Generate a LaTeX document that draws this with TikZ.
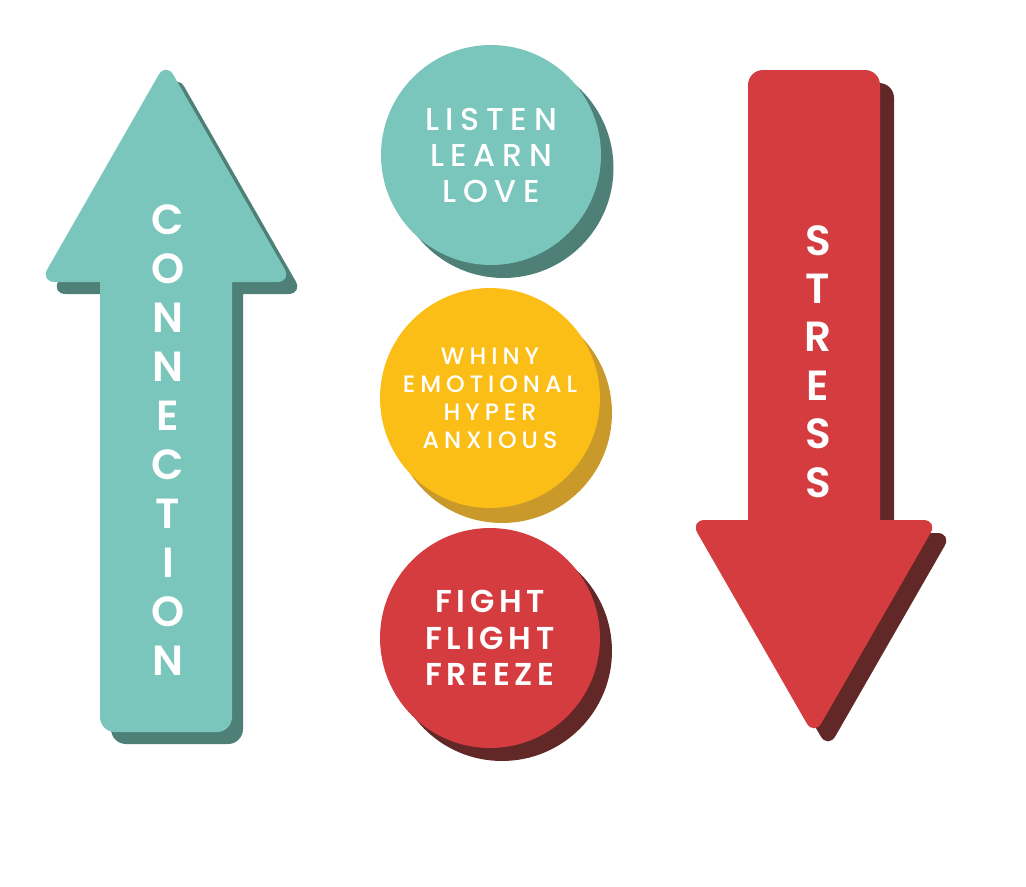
\documentclass[tikz,border=0pt]{standalone}
\usepackage{fontspec}
\setmainfont{Poppins}
\newfontfamily\spacedfont[LetterSpace=21]{Poppins Medium}
\newfontfamily\heavyfont[LetterSpace=15]{Poppins SemiBold}
\newfontfamily\stackfont{Poppins SemiBold}
\usetikzlibrary{shadows}
\definecolor{teal}{HTML}{7AC6BC}
\definecolor{tealdark}{HTML}{4F8077}
\definecolor{sun}{HTML}{FBBE16}
\definecolor{sundark}{HTML}{C99A2A}
\definecolor{alarm}{HTML}{D43C3F}
\definecolor{alarmdark}{HTML}{622828}
\tikzset{bubble/.style={circle, minimum size=4.4cm, inner sep=0pt, align=center, text=white}}
\tikzset{stack/.style={text=white, inner sep=0pt, font=\stackfont\fontsize{24}{28}\selectfont}}
\tikzset{arrowshape/.style={rounded corners=0.3cm}}

\begin{document}
\begin{tikzpicture}[x=0.02cm, y=-0.02cm]
\useasboundingbox (0,0) rectangle (1026,886);

% up arrow
\fill[tealdark, arrowshape, shift={(11,12)}] (166,62) -- (292,282) [sharp corners] -- (232,282) [rounded corners=0.3cm] -- (232,732) -- (100,732) [sharp corners] -- (100,282) [rounded corners=0.3cm] -- (40,282) -- cycle;
\fill[teal, arrowshape] (166,62) -- (292,282) [sharp corners] -- (232,282) [rounded corners=0.3cm] -- (232,732) -- (100,732) [sharp corners] -- (100,282) [rounded corners=0.3cm] -- (40,282) -- cycle;
\foreach \l [count=\i] in {C,O,N,N,E,C,T,I,O,N}
  \node[stack] (conn\i) at (168, 171+49*\i) {\l};

% down arrow
\fill[alarmdark, arrowshape, shift={(14,13)}] (748,520) [rounded corners=0.3cm] -- (748,70) -- (880,70) [sharp corners] -- (880,520) [rounded corners=0.3cm] -- (938,520) -- (814,736) -- (690,520) [sharp corners] -- cycle;
\fill[alarm, arrowshape] (748,520) [rounded corners=0.3cm] -- (748,70) -- (880,70) [sharp corners] -- (880,520) [rounded corners=0.3cm] -- (938,520) -- (814,736) -- (690,520) [sharp corners] -- cycle;
\foreach \l [count=\i] in {S,T,R,E,S,S}
  \node[stack] (stress\i) at (818, 192+48.4*\i) {\l};

% circles
\node[bubble, fill=teal, general shadow={fill=tealdark, shadow xshift=0.25cm, shadow yshift=-0.26cm},
  font=\spacedfont\fontsize{18}{20.5}\selectfont] (calm) at (491,155) {LISTEN\\LEARN\\LOVE};
\node[bubble, fill=sun, general shadow={fill=sundark, shadow xshift=0.24cm, shadow yshift=-0.3cm},
  font=\spacedfont\fontsize{13.5}{16}\selectfont] (alert) at (490,398) {WHINY\\EMOTIONAL\\HYPER\\ANXIOUS};
\node[bubble, fill=alarm, general shadow={fill=alarmdark, shadow xshift=0.24cm, shadow yshift=-0.26cm},
  font=\heavyfont\fontsize{18}{20.8}\selectfont] (alarm) at (490,638) {FIGHT\\FLIGHT\\FREEZE};
\end{tikzpicture}
\end{document}
